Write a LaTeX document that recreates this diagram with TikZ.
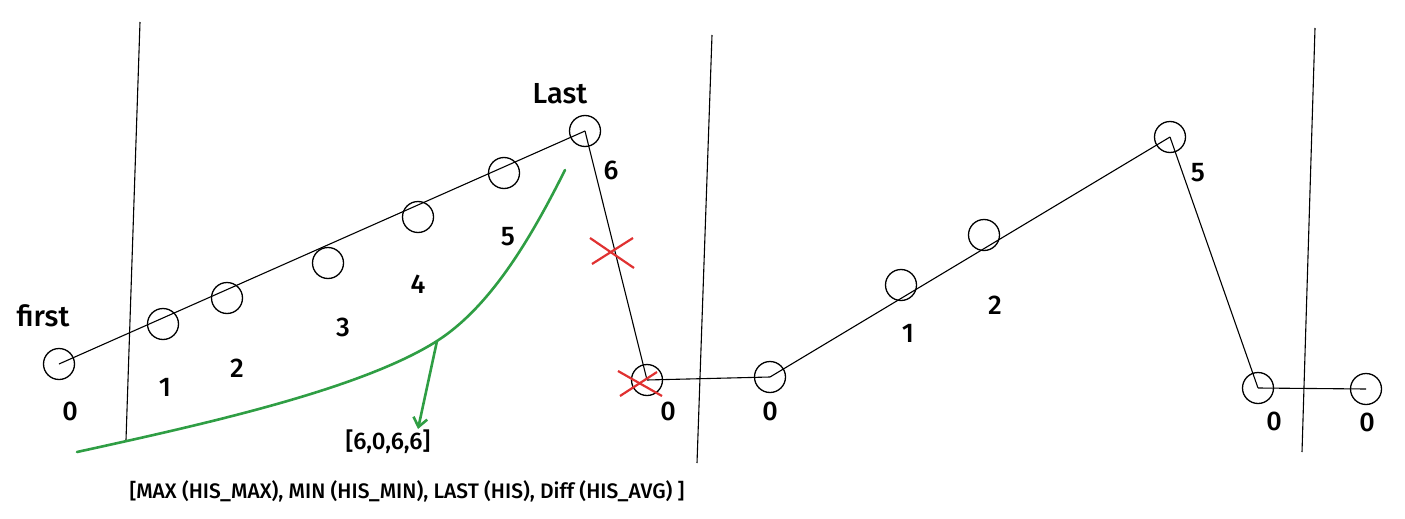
\documentclass[tikz,border=0pt]{standalone}
\usepackage{fontspec}
\setmainfont{Fira Sans}[UprightFont=* Medium]
\usetikzlibrary{arrows.meta}
\definecolor{sgreen}{HTML}{2F9E44}
\definecolor{sred}{HTML}{E03131}
\tikzset{
  pt/.style={circle,draw,line width=1.3pt,minimum size=31pt,inner sep=0pt},
  edge/.style={line width=1.1pt},
  sep/.style={line width=1.1pt},
  lbl/.style={font=\fontsize{27}{29}\selectfont},
  word/.style={font=\fontsize{29}{31}\selectfont},
  redx/.style={draw=sred,line width=2.2pt},
  gline/.style={draw=sgreen,line width=2.6pt}
}
\begin{document}
\begin{tikzpicture}[x=1pt,y=-1pt]
\useasboundingbox (0,0) rectangle (1405,519);
% separators
\coordinate (v1a) at (140,22); \coordinate (v1b) at (126,440);
\coordinate (v2a) at (712,35); \coordinate (v2b) at (697,463);
\coordinate (v3a) at (1315,28); \coordinate (v3b) at (1302,452);
\draw[sep] (v1a) -- (v1b);
\draw[sep] (v2a) -- (v2b);
\draw[sep] (v3a) -- (v3b);
% points
\node[pt] (c0) at (59,364) {};
\node[pt] (c1) at (163,324) {};
\node[pt] (c2) at (227,298) {};
\node[pt] (c3) at (328,263) {};
\node[pt] (c4) at (418,217) {};
\node[pt] (c5) at (504,173) {};
\node[pt] (c6) at (585,131) {};
\node[pt] (c7) at (647,380) {};
\node[pt] (c8) at (770,377) {};
\node[pt] (c9) at (901,285) {};
\node[pt] (c10) at (984,235) {};
\node[pt] (c11) at (1170,137) {};
\node[pt] (c12) at (1258,388) {};
\node[pt] (c13) at (1366,389) {};
% connectors
\draw[edge] (c0.center) -- (c6.center);
\draw[edge] (c6.center) -- (c7.center);
\draw[edge] (c7.center) -- (c8.center);
\draw[edge] (c8.center) -- (c11.center);
\draw[edge] (c11.center) -- (c12.center);
\draw[edge] (c12.center) -- (c13.center);
% labels
\node[word] (tfirst) at (43,316) {first};
\node[word] (tlast) at (560,94) {Last};
\node[lbl] (l0) at (70,411) {0};
\node[lbl] (l1) at (165,387) {1};
\node[lbl] (l2) at (237,368) {2};
\node[lbl] (l3) at (343,327) {3};
\node[lbl] (l4) at (418,284) {4};
\node[lbl] (l5) at (508,237) {5};
\node[lbl] (l6) at (611,170) {6};
\node[lbl] (l7) at (668,411) {0};
\node[lbl] (l8) at (770,411) {0};
\node[lbl] (l9) at (908,333) {1};
\node[lbl] (l10) at (995,305) {2};
\node[lbl] (l11) at (1198,173) {5};
\node[lbl] (l12) at (1274,421) {0};
\node[lbl] (l13) at (1367,422) {0};
% red crosses
\coordinate (xa1) at (590,238); \coordinate (xa2) at (634,268);
\coordinate (xa3) at (592,264); \coordinate (xa4) at (633,238);
\draw[redx] (xa1) -- (xa2); \draw[redx] (xa3) -- (xa4);
\coordinate (xb1) at (618,371); \coordinate (xb2) at (662,396);
\coordinate (xb3) at (620,396); \coordinate (xb4) at (657,372);
\draw[redx] (xb1) -- (xb2); \draw[redx] (xb3) -- (xb4);
% green curve and arrow
\coordinate (gs) at (77,452);
\coordinate (ga) at (437,341);
\coordinate (ge) at (565,170);
\draw[gline,line cap=round] (gs) .. controls (200,425) and (360,390) .. (ga) .. controls (490,307) and (530,240) .. (ge);
\node[font=\fontsize{24}{26}\selectfont] (res) at (388,442) {[6,0,6,6]};
\coordinate (gt) at (418,429);
\draw[gline,-{Straight Barb[length=9pt,width=14pt]}] (ga) -- (gt);
% bottom text
\node[font=\fontsize{21}{23}\selectfont] (legend) at (407,491) {[MAX (HIS\_MAX), MIN (HIS\_MIN), LAST (HIS), Diff (HIS\_AVG) ]};
\end{tikzpicture}
\end{document}
